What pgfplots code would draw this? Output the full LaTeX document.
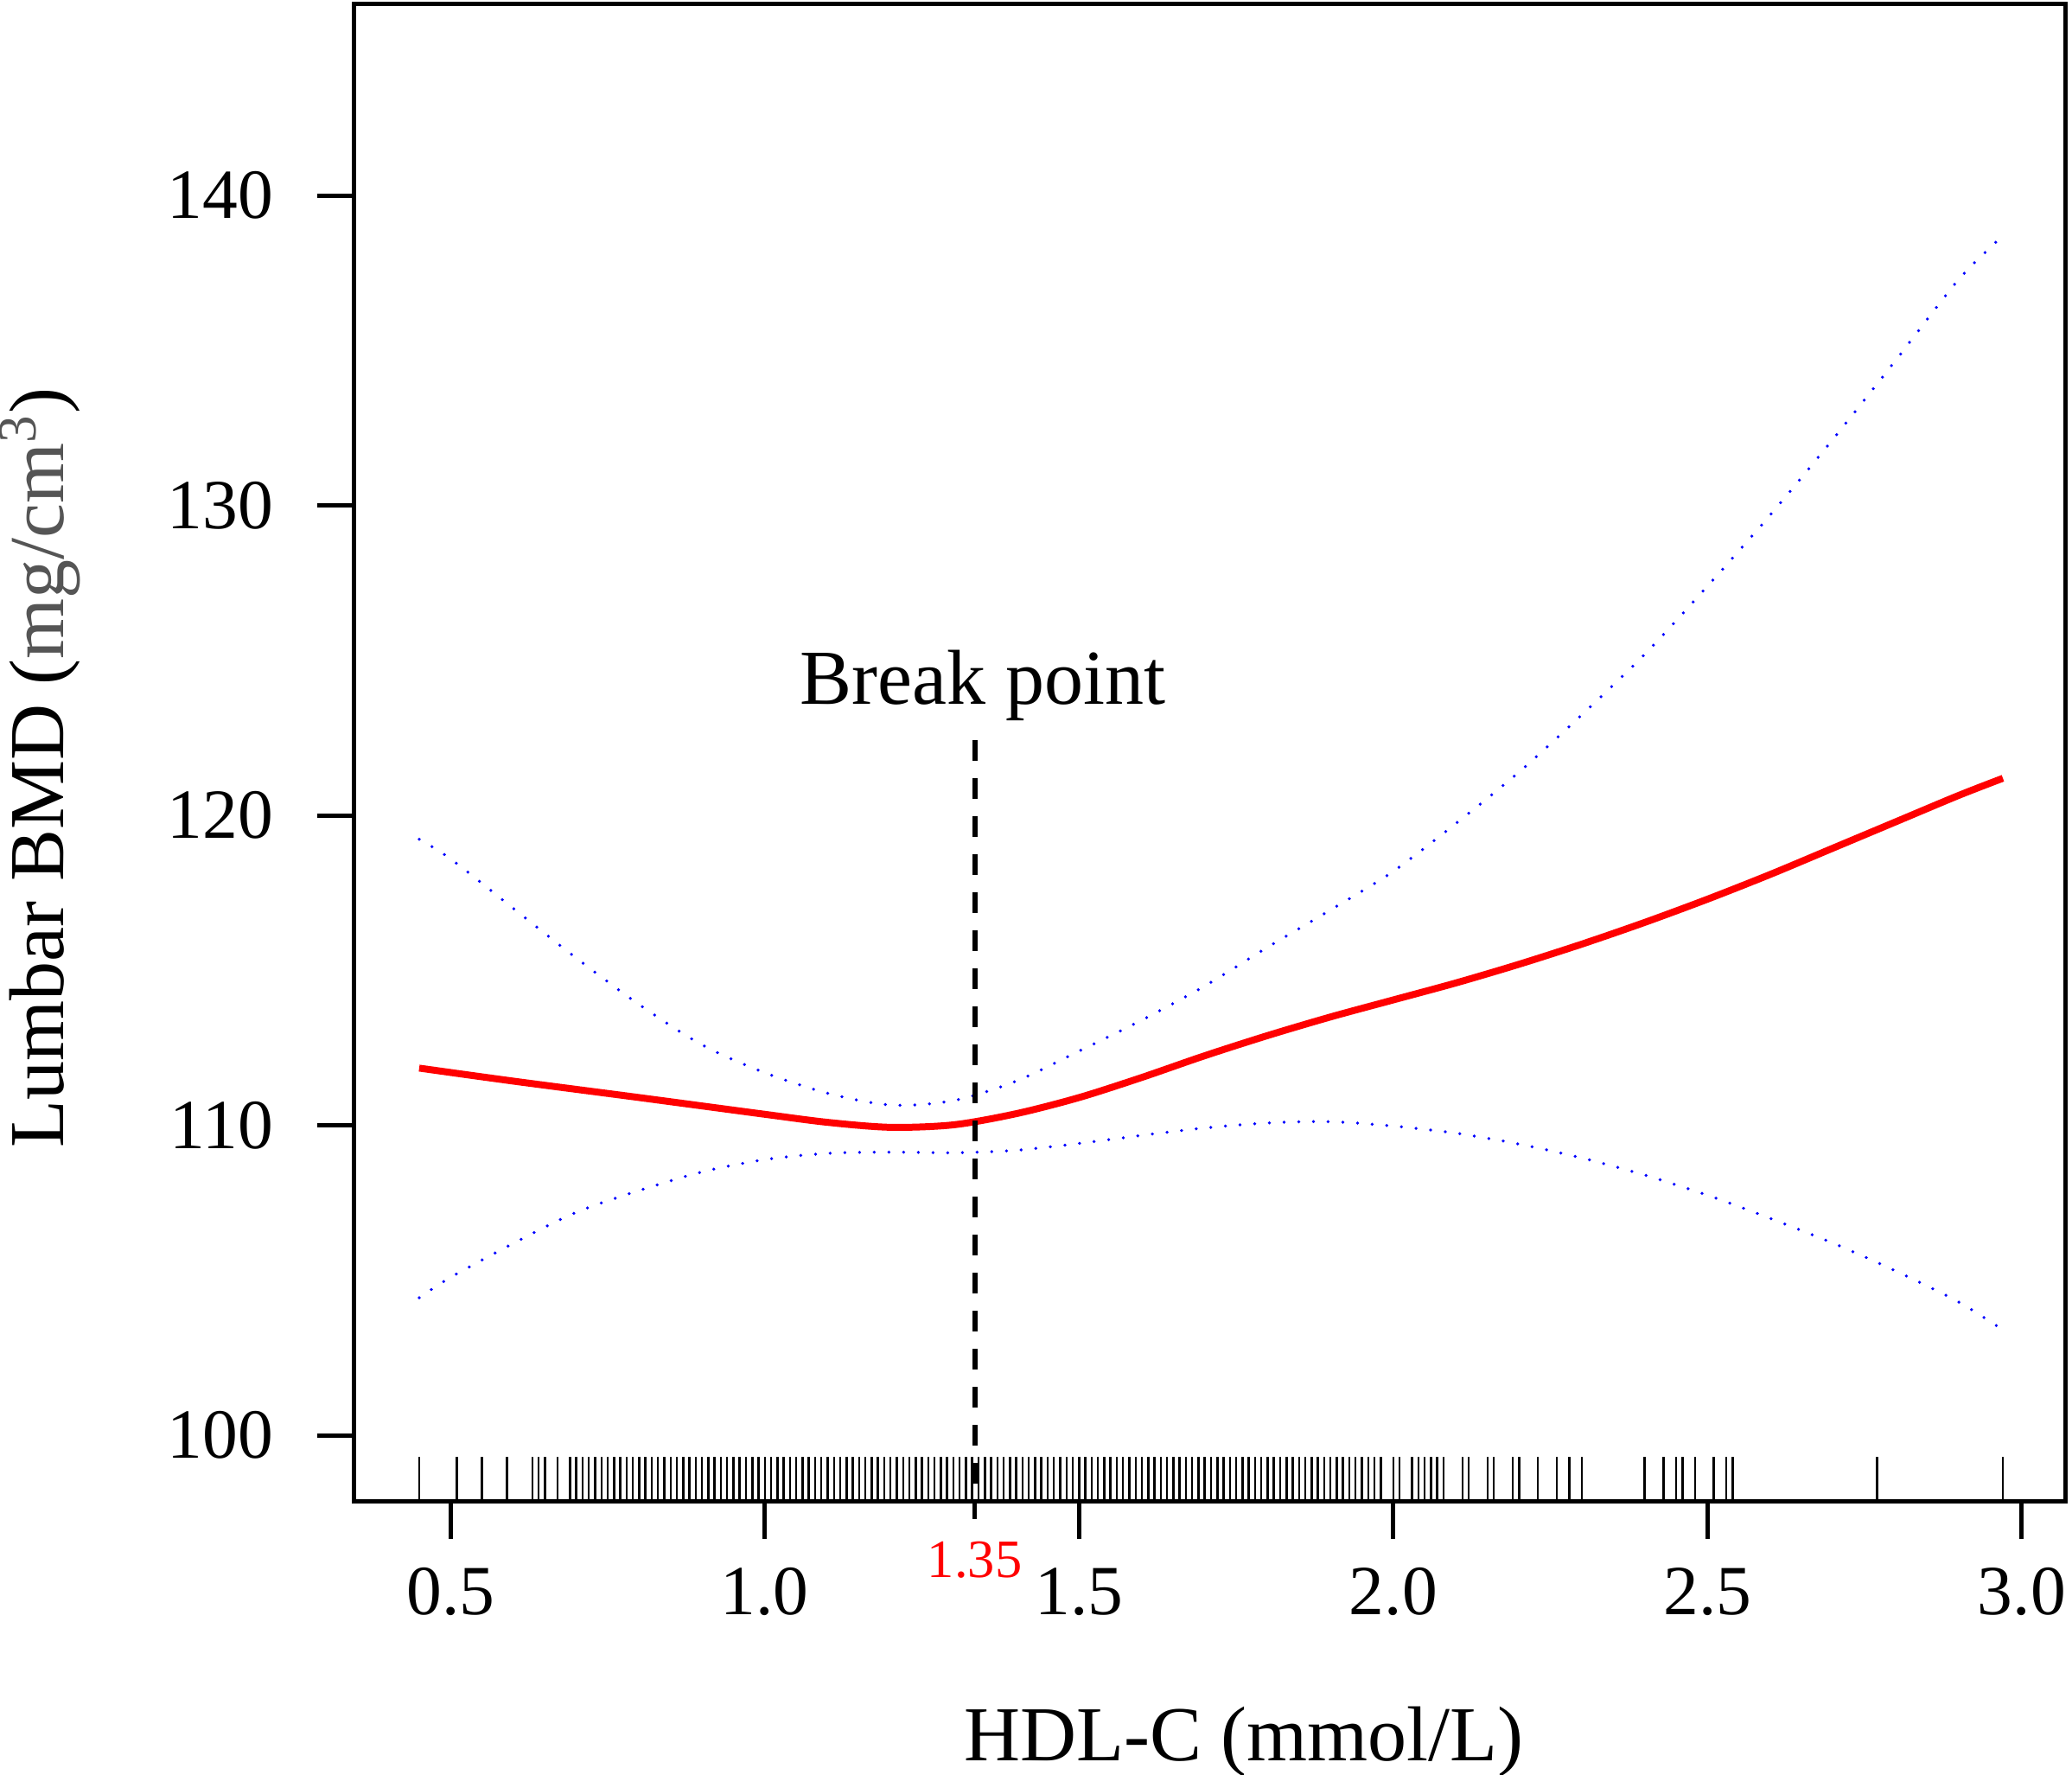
\documentclass[border=0pt]{standalone}
\usepackage{fontspec}
\setmainfont{Liberation Serif}
\usepackage{pgfplots}
\pgfplotsset{compat=1.18}
\definecolor{labgrey}{HTML}{555555}
\begin{document}
\begin{tikzpicture}
\path[use as bounding box] (-81.94pt,-63.08pt) rectangle (397.46pt,347.32pt);
\begin{axis}[
  at={(0pt,0pt)}, anchor=south west,
  scale only axis, width=395.94pt, height=346.4pt,
  xmin=0.3465, xmax=3.0695, ymin=97.87, ymax=146.18,
  xtick={0.5,1.0,1.5,2.0,2.5,3.0},
  xticklabels={0.5,1.0,1.5,2.0,2.5,3.0},
  ytick={100,110,120,130,140},
  tick pos=left, tick align=outside,
  major tick length=8.6pt,
  tick style={black, line width=1pt},
  axis line style={line width=1pt},
  /pgf/number format/assume math mode=true,
  xticklabel style={font=\fontsize{16.3}{19}\selectfont, anchor=base, inner sep=0pt, yshift=-17.5pt},
  yticklabel style={font=\fontsize{16.3}{19}\selectfont, anchor=east, inner sep=0pt, xshift=-9.9pt},
  extra x ticks={1.334},
  extra x tick labels={1.35},
  extra x tick style={major tick length=4pt, xticklabel style={text=red, font=\fontsize{12.5}{15}\selectfont, yshift=4pt}},
  xlabel={HDL-C (mmol/L)},
  xlabel style={at={(axis description cs:0.520,-0.1729)}, anchor=base, font=\fontsize{18}{22}\selectfont},
  ylabel={Lumbar BMD (\textcolor{labgrey}{mg/cm\textsuperscript{3}})},
  ylabel style={at={(axis description cs:-0.170,0.490)}, anchor=base, font=\fontsize{18}{22}\selectfont},
]
% rug
\addplot[ycomb, black, line width=0.5pt, no markers] coordinates {
(0.45,99.31)(0.51,99.31)(0.55,99.31)(0.59,99.31)(0.63,99.31)(0.64,99.31)(0.65,99.31)(0.67,99.31)
(0.69,99.31)(0.70,99.31)(0.71,99.31)(0.72,99.31)(0.73,99.31)(0.74,99.31)(0.75,99.31)(0.76,99.31)(0.77,99.31)(0.78,99.31)(0.79,99.31)
(0.80,99.31)(0.81,99.31)(0.82,99.31)(0.83,99.31)(0.84,99.31)(0.85,99.31)(0.86,99.31)(0.87,99.31)(0.88,99.31)(0.89,99.31)
(0.90,99.31)(0.91,99.31)(0.92,99.31)(0.93,99.31)(0.94,99.31)(0.95,99.31)(0.96,99.31)(0.97,99.31)(0.98,99.31)(0.99,99.31)
(1.00,99.31)(1.01,99.31)(1.02,99.31)(1.03,99.31)(1.04,99.31)(1.05,99.31)(1.06,99.31)(1.07,99.31)(1.08,99.31)(1.09,99.31)
(1.10,99.31)(1.11,99.31)(1.12,99.31)(1.13,99.31)(1.14,99.31)(1.15,99.31)(1.16,99.31)(1.17,99.31)(1.18,99.31)(1.19,99.31)
(1.20,99.31)(1.21,99.31)(1.22,99.31)(1.23,99.31)(1.24,99.31)(1.25,99.31)(1.26,99.31)(1.27,99.31)(1.28,99.31)(1.29,99.31)
(1.30,99.31)(1.31,99.31)(1.32,99.31)(1.33,99.31)(1.34,99.31)(1.35,99.31)(1.36,99.31)(1.37,99.31)(1.38,99.31)(1.39,99.31)
(1.40,99.31)(1.41,99.31)(1.42,99.31)(1.43,99.31)(1.44,99.31)(1.45,99.31)(1.46,99.31)(1.47,99.31)(1.48,99.31)(1.49,99.31)
(1.50,99.31)(1.51,99.31)(1.52,99.31)(1.53,99.31)(1.54,99.31)(1.55,99.31)(1.56,99.31)(1.57,99.31)(1.58,99.31)(1.59,99.31)
(1.60,99.31)(1.61,99.31)(1.62,99.31)(1.63,99.31)(1.64,99.31)(1.65,99.31)(1.66,99.31)(1.67,99.31)(1.68,99.31)(1.69,99.31)
(1.70,99.31)(1.71,99.31)(1.72,99.31)(1.73,99.31)(1.74,99.31)(1.75,99.31)(1.76,99.31)(1.77,99.31)(1.78,99.31)(1.79,99.31)
(1.80,99.31)(1.81,99.31)(1.82,99.31)(1.83,99.31)(1.84,99.31)(1.85,99.31)(1.86,99.31)(1.87,99.31)(1.88,99.31)(1.89,99.31)
(1.90,99.31)(1.91,99.31)(1.92,99.31)(1.93,99.31)(1.94,99.31)(1.95,99.31)(1.96,99.31)(1.97,99.31)(1.98,99.31)
(2.00,99.31)(2.01,99.31)(2.03,99.31)(2.04,99.31)(2.05,99.31)(2.06,99.31)(2.07,99.31)(2.08,99.31)
(2.11,99.31)(2.12,99.31)(2.15,99.31)(2.16,99.31)(2.19,99.31)(2.20,99.31)(2.23,99.31)(2.26,99.31)(2.28,99.31)(2.30,99.31)
(2.40,99.31)(2.43,99.31)(2.45,99.31)(2.46,99.31)(2.48,99.31)(2.51,99.31)(2.53,99.31)(2.54,99.31)(2.77,99.31)(2.97,99.31)
};
% upper CI
\addplot[blue, line width=0.75pt, dash pattern=on 0pt off 3.4pt, line cap=round, smooth] coordinates {
(0.45,119.23)(0.5,118.6)(0.6,117.0)(0.7,115.4)(0.8,113.9)(0.9,112.6)(1.0,111.7)(1.1,111.04)(1.2,110.66)(1.3,110.8)
(1.4,111.43)(1.5,112.4)(1.6,113.4)(1.7,114.5)(1.8,115.75)(1.9,116.95)(2.0,118.2)(2.1,119.75)(2.2,121.4)(2.3,123.25)(2.4,125.2)
(2.5,127.4)(2.6,129.7)(2.7,132.15)(2.8,134.7)(2.9,137.3)(2.97,138.7)
};
% lower CI
\addplot[blue, line width=0.75pt, dash pattern=on 0pt off 3.4pt, line cap=round, smooth] coordinates {
(0.45,104.44)(0.5,105.1)(0.6,106.2)(0.7,107.2)(0.8,107.9)(0.9,108.5)(1.0,108.9)(1.1,109.1)(1.2,109.14)(1.3,109.12)
(1.4,109.2)(1.5,109.42)(1.6,109.68)(1.7,109.92)(1.8,110.08)(1.9,110.12)(2.0,109.98)(2.1,109.75)(2.2,109.4)(2.3,108.95)(2.4,108.4)
(2.5,107.75)(2.6,107.0)(2.7,106.2)(2.8,105.3)(2.9,104.3)(2.97,103.4)
};
% fitted curve
\addplot[red, line width=1.6pt, smooth] coordinates {
(0.45,111.85)(0.6,111.43)(0.8,110.9)(1.0,110.36)(1.1,110.1)(1.2,109.94)(1.3,110.02)(1.4,110.38)(1.5,110.9)
(1.6,111.55)(1.7,112.25)(1.8,112.9)(1.9,113.5)(2.0,114.05)(2.1,114.6)(2.2,115.2)(2.3,115.85)(2.4,116.55)
(2.5,117.3)(2.6,118.1)(2.7,118.95)(2.8,119.8)(2.9,120.65)(2.97,121.2)
};
% break point line
\addplot[black, line width=1.2pt, dash pattern=on 4.8pt off 4pt] coordinates {(1.334,122.43)(1.334,97.87)};
\node[anchor=base, font=\fontsize{18}{22}\selectfont] at (axis cs:1.347,123.58) {Break point};
\end{axis}
\end{tikzpicture}
\end{document}
